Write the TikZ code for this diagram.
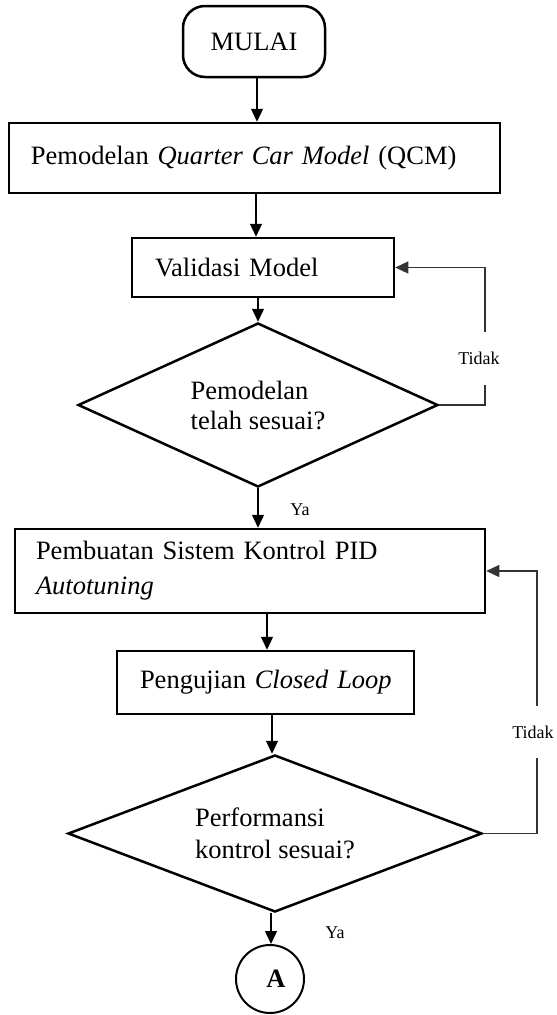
\documentclass[tikz,border=0pt]{standalone}
\usepackage{fontspec}
\setmainfont{Liberation Serif}
\usetikzlibrary{shapes.geometric,arrows.meta}
\begin{document}
\begin{tikzpicture}[x=1pt,y=-1pt,
  font=\fontsize{26.5}{30}\selectfont,
  box/.style={draw,line width=2.5pt,rectangle,align=left,inner xsep=0pt,inner ysep=0pt},
  decision/.style={draw,diamond,line width=2.5pt,inner sep=0pt,align=left},
  conn/.style={line width=1.3pt,-{Triangle[length=13pt,width=12pt]}},
  loopline/.style={line width=1.2pt,black!80,-{Triangle[length=13pt,width=12pt]}},
  lab/.style={font=\fontsize{18}{20}\selectfont,fill=white,inner sep=0pt},
  small/.style={font=\fontsize{18}{20}\selectfont,inner sep=0pt}
]
\useasboundingbox (0,0) rectangle (557,1015);

\node[draw,line width=2.5pt,rounded corners=22pt,minimum width=142pt,minimum height=71pt] (start) at (254,41.5) {MULAI};

\node[box,minimum height=70pt,text width=491pt] (b1) at (254.5,158) {\hspace*{22pt}Pemodelan \textit{Quarter Car Model} (QCM)};

\node[box,minimum height=59pt,text width=262pt] (b2) at (263,267.5) {\hspace*{23pt}Validasi Model};

\node[decision,aspect=2.2,minimum width=360pt,minimum height=164pt,font=\fontsize{26.5}{30}\selectfont] (d1) at (258,405) {Pemodelan\\telah sesuai?};

\node[box,minimum height=84pt,text width=470pt,font=\fontsize{26.5}{35}\selectfont] (b3) at (250,571) {\hspace*{21pt}Pembuatan Sistem Kontrol PID\\\hspace*{21pt}\textit{Autotuning}};

\node[box,minimum height=63pt,text width=297pt] (b4) at (265.5,682.5) {\hspace*{23pt}Pengujian \textit{Closed Loop}};

\node[decision,aspect=2.6,minimum width=414pt,minimum height=157pt,font=\fontsize{26.5}{32}\selectfont] (d2) at (275,833.5) {Performansi\\kontrol sesuai?};

\node[draw,circle,line width=2pt,minimum size=68pt,inner sep=0pt] (end) at (270,979) {\kern12pt\textbf{A}};

% main flow
\draw[conn] (257,0 |- start.south) -- (257,0 |- b1.north);
\draw[conn] (256,0 |- b1.south) -- (256,0 |- b2.north);
\draw[conn] (258,0 |- b2.south) -- (d1.north);
\draw[conn] (d1.south) -- (258,0 |- b3.north);
\draw[conn] (267,0 |- b3.south) -- (267,0 |- b4.north);
\draw[conn] (272,0 |- b4.south) -- (272,0 |- d2.north);
\draw[conn] (271,0 |- d2.south) -- (271,0 |- end.north);

% loops
\draw[loopline] (d1.east) -- (485,0 |- d1.east) -- (485,0 |- b2.east) -- (b2.east);
\node[lab,minimum height=53pt] (t1) at (479,358) {Tidak};
\draw[loopline] (d2.east) -- (537,0 |- d2.east) -- (537,0 |- b3.east) -- (b3.east);
\node[lab,minimum height=52pt] (t2) at (533,732) {Tidak};

\node[small] (y1) at (300,510) {Ya};
\node[small] (y2) at (335,933) {Ya};
\end{tikzpicture}
\end{document}
